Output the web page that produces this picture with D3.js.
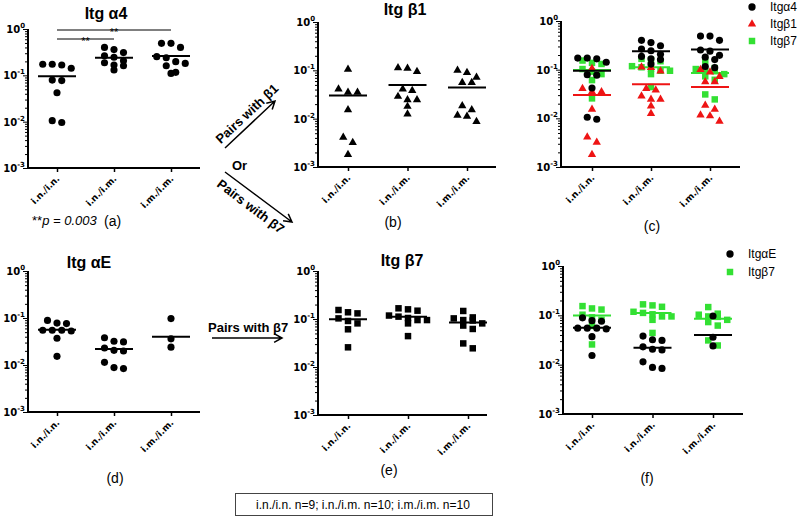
<!DOCTYPE html>
<html>
<head>
<meta charset="utf-8">
<script src="https://cdn.jsdelivr.net/npm/d3@7"></script>
<style>
body { margin: 0; background: #fff; }
svg { font-family: "Liberation Sans", Arial, sans-serif; }
.ylab, .xlab { font-family: "DejaVu Sans", sans-serif; font-weight: bold; }
</style>
</head>
<body>
<script>
//categories and tick labels
var categories = ["i.n./i.n.", "i.n./i.m.", "i.m./i.m."];
var yTickValues = [1, 0.1, 0.01, 0.001];
var yTickExponents = ["0", "-1", "-2", "-3"];

//Itg a4 (circles)
var itgA4 = [
    [0.173, 0.167, 0.142, 0.173, 0.077, 0.079, 0.042, 0.0096, 0.0105],
    [0.31, 0.36, 0.40, 0.245, 0.265, 0.207, 0.167, 0.161, 0.187, 0.13],
    [0.49, 0.40, 0.49, 0.253, 0.197, 0.181, 0.24, 0.161, 0.11, 0.116]
];
var itgA4Median = [0.095, 0.24, 0.26];

//Itg b1 (triangles)
var itgB1 = [
    [0.105, 0.041, 0.035, 0.035, 0.0153, 0.0041, 0.0032, 0.0018],
    [0.11, 0.094, 0.113, 0.038, 0.041, 0.0246, 0.0246, 0.0288, 0.0179, 0.0125],
    [0.10, 0.0895, 0.072, 0.056, 0.056, 0.0185, 0.0153, 0.0117, 0.0112, 0.0087]
];
var itgB1Median = [0.030, 0.050, 0.044];

//Itg b7 (squares)
var itgB7 = [
    [0.138, 0.081, 0.103, 0.061, 0.131, 0.091, 0.154, 0.0257],
    [0.167, 0.149, 0.159, 0.112, 0.095, 0.081, 0.095, 0.105, 0.118, 0.044],
    [0.108, 0.093, 0.095, 0.073, 0.103, 0.062, 0.147, 0.081, 0.0245, 0.031]
];
var itgB7Median = [0.099, 0.112, 0.085];

//Itg aE (circles)
var itgAE = [
    [0.089, 0.076, 0.078, 0.055, 0.053, 0.055, 0.055, 0.037, 0.0153],
    [0.038, 0.031, 0.032, 0.023, 0.0199, 0.0205, 0.0114, 0.0084, 0.0088],
    [0.097, 0.036, 0.024]
];
var itgAEMedian = [0.056, 0.022, 0.040];

var legendC = ["Itg\u03b14", "Itg\u03b21", "Itg\u03b27"];
var legendF = ["Itg\u03b1E", "Itg\u03b27"];

var width = 800,
    height = 517;

var green = "#33e033",
    red = "#ee1414";

var svg = d3.select("body")
    .append("svg")
    .attr("width", width)
    .attr("height", height);

//minor log ticks 2..9 x 10^k
var minorTicks = [];
[0.001, 0.01, 0.1].forEach(function(b){
    for (var m = 2; m < 10; m++) minorTicks.push(m * b);
});

//group points with close y into rows and center each row (graphpad style)
function swarm(values, y, step, tol){
    var pts = values.map(function(v){ return {v: v, py: y(v)}; })
        .sort(function(a, b){ return a.py - b.py; });
    var rows = [];
    pts.forEach(function(p){
        var last = rows[rows.length - 1];
        if (last && p.py - last[0].py < tol) last.push(p);
        else rows.push([p]);
    });
    rows.forEach(function(r){
        r.forEach(function(p, i){ p.dx = (i - (r.length - 1) / 2) * step; });
    });
    return pts;
}

function drawPanel(p, series){
    var y = d3.scaleLog().domain([0.001, 1]).range([p.bottom, p.top]);
    var x = d3.scalePoint().domain(categories).range(p.cats);
    var g = svg.append("g");

    //minor + major y ticks
    g.append("g")
        .attr("transform", "translate(" + p.ax + ",0)")
        .call(d3.axisLeft(y).tickValues(minorTicks).tickSize(3).tickSizeOuter(0).tickFormat(""))
        .call(function(s){ s.select(".domain").remove(); });
    g.append("g")
        .attr("transform", "translate(" + p.ax + ",0)")
        .call(d3.axisLeft(y).tickValues(yTickValues).tickSize(5).tickSizeOuter(0).tickFormat(""))
        .call(function(s){ s.select(".domain").remove(); });

    //y tick labels 10^k
    var lab = g.selectAll(".ylab")
        .data(yTickValues)
        .enter()
        .append("text")
        .attr("class", "ylab")
        .attr("x", p.ax - 3)
        .attr("y", function(d){ return y(d) + 4; })
        .attr("text-anchor", "end")
        .attr("font-size", 10);
    lab.append("tspan").text("10");
    lab.append("tspan")
        .attr("dy", -5)
        .attr("font-size", 7)
        .text(function(d, i){ return yTickExponents[i]; });

    //x ticks
    var xa = g.append("g")
        .attr("transform", "translate(0," + p.bottom + ")")
        .call(d3.axisBottom(x).tickSize(4).tickSizeOuter(0).tickFormat(""))
        .call(function(s){ s.select(".domain").remove(); });
    xa.selectAll("line").attr("stroke-width", 1.5);

    //rotated category labels
    g.selectAll(".xlab")
        .data(categories)
        .enter()
        .append("text")
        .attr("class", "xlab")
        .attr("transform", function(d){
            return "translate(" + (x(d) + 1) + "," + (p.bottom + 9) + ") rotate(-45)";
        })
        .attr("dy", "0.35em")
        .attr("text-anchor", "end")
        .attr("font-size", 9)
        .text(function(d){ return d; });

    //axis lines
    g.append("path")
        .attr("d", "M" + p.ax + "," + p.top + "V" + p.bottom + "H" + p.axEnd)
        .attr("fill", "none")
        .attr("stroke", "#000")
        .attr("stroke-width", 2);

    //points and median lines
    series.forEach(function(s){
        s.values.forEach(function(vals, i){
            var pts = swarm(vals, y, 9.5, 7);
            g.selectAll(null)
                .data(pts)
                .enter()
                .append("path")
                .attr("d", d3.symbol(s.shape, s.size))
                .attr("transform", function(d){
                    return "translate(" + (x(categories[i]) + d.dx) + "," + y(d.v) + ")";
                })
                .attr("fill", s.color);
        });
        g.selectAll(null)
            .data(s.median)
            .enter()
            .append("line")
            .attr("x1", function(d, i){ return x(categories[i]) - 19; })
            .attr("x2", function(d, i){ return x(categories[i]) + 19; })
            .attr("y1", function(d){ return y(d); })
            .attr("y2", function(d){ return y(d); })
            .attr("stroke", s.color)
            .attr("stroke-width", 2);
    });
    return {x: x, y: y};
}

var circle = d3.symbolCircle, tri = d3.symbolTriangle, sq = d3.symbolSquare;

var pa = drawPanel({ax: 28, axEnd: 200, top: 29, bottom: 168, cats: [57, 171]},
    [{values: itgA4, median: itgA4Median, shape: circle, size: 40, color: "#000"}]);
drawPanel({ax: 318, axEnd: 496, top: 22, bottom: 167, cats: [348, 467]},
    [{values: itgB1, median: itgB1Median, shape: tri, size: 30, color: "#000"}]);
drawPanel({ax: 561, axEnd: 740, top: 21, bottom: 167, cats: [592, 710]},
    [{values: itgB7, median: itgB7Median, shape: sq, size: 42, color: green},
     {values: itgB1, median: itgB1Median, shape: tri, size: 30, color: red},
     {values: itgA4, median: itgA4Median, shape: circle, size: 40, color: "#000"}]);
drawPanel({ax: 28, axEnd: 200, top: 271, bottom: 412, cats: [57, 171]},
    [{values: itgAE, median: itgAEMedian, shape: circle, size: 40, color: "#000"}]);
drawPanel({ax: 318, axEnd: 487, top: 271, bottom: 415, cats: [348, 468]},
    [{values: itgB7, median: itgB7Median, shape: sq, size: 42, color: "#000"}]);
drawPanel({ax: 563, axEnd: 743, top: 266, bottom: 414, cats: [592, 713]},
    [{values: itgB7, median: itgB7Median, shape: sq, size: 42, color: green},
     {values: itgAE, median: itgAEMedian, shape: circle, size: 40, color: "#000"}]);

//titles
var titles = [["Itg \u03b14", 106, 19], ["Itg \u03b21", 405, 15], ["Itg \u03b1E", 89, 268], ["Itg \u03b27", 402, 266]];
svg.selectAll(".title")
    .data(titles)
    .enter()
    .append("text")
    .attr("class", "title")
    .attr("x", function(d){ return d[1]; })
    .attr("y", function(d){ return d[2]; })
    .attr("text-anchor", "middle")
    .attr("font-size", 16)
    .attr("font-weight", "bold")
    .text(function(d){ return d[0]; });

//significance bars in (a)
[[categories[0], categories[1], 39], [categories[0], categories[2], 30]].forEach(function(b){
    var x1 = pa.x(b[0]), x2 = pa.x(b[1]);
    svg.append("line")
        .attr("x1", x1).attr("x2", x2)
        .attr("y1", b[2]).attr("y2", b[2])
        .attr("stroke", "#000").attr("stroke-width", 1);
    svg.append("text")
        .attr("x", (x1 + x2) / 2)
        .attr("y", b[2] + 6)
        .attr("text-anchor", "middle")
        .attr("font-size", 11)
        .text("**");
});

//panel letters
var pt = svg.append("text").attr("x", 32).attr("y", 225).attr("font-size", 13);
pt.append("tspan").text("**");
pt.append("tspan").attr("font-style", "italic").text("p = 0.003");
svg.append("text").attr("x", 104).attr("y", 226).attr("font-size", 14).text("(a)");
var letters = [["(b)", 393, 227], ["(c)", 652, 231], ["(d)", 115, 483], ["(e)", 389, 475], ["(f)", 647, 483]];
svg.selectAll(".letter")
    .data(letters)
    .enter()
    .append("text")
    .attr("x", function(d){ return d[1]; })
    .attr("y", function(d){ return d[2]; })
    .attr("text-anchor", "middle")
    .attr("font-size", 14)
    .text(function(d){ return d[0]; });

//legends
function legend(items, shapes, colors, lx, ly, gap){
    items.forEach(function(t, i){
        svg.append("path")
            .attr("d", d3.symbol(shapes[i], shapes[i] === tri ? 30 : 42))
            .attr("transform", "translate(" + lx + "," + (ly + i * gap) + ")")
            .attr("fill", colors[i]);
        svg.append("text")
            .attr("x", lx + 18)
            .attr("y", ly + i * gap + 4)
            .attr("font-size", 12)
            .text(t);
    });
}
legend(legendC, [circle, tri, sq], ["#000", red, green], 752, 7, 17);
legend(legendF, [circle, sq], ["#000", green], 730, 254, 18);

//arrows
function arrow(x1, y1, x2, y2){
    var a = Math.atan2(y2 - y1, x2 - x1), h = 9;
    svg.append("path")
        .attr("d", "M" + x1 + "," + y1 + "L" + x2 + "," + y2 +
            "M" + (x2 - h * Math.cos(a - 0.5)) + "," + (y2 - h * Math.sin(a - 0.5)) +
            "L" + x2 + "," + y2 +
            "L" + (x2 - h * Math.cos(a + 0.5)) + "," + (y2 - h * Math.sin(a + 0.5)))
        .attr("fill", "none")
        .attr("stroke", "#000")
        .attr("stroke-width", 1.5);
}
function arrowText(t, cx, cy, ang){
    svg.append("text")
        .attr("transform", "translate(" + cx + "," + cy + ") rotate(" + ang + ")")
        .attr("text-anchor", "middle")
        .attr("font-size", 13)
        .attr("font-weight", "bold")
        .text(t);
}
arrow(225, 148, 275, 101);
arrowText("Pairs with \u03b21", 250, 117, -43);
svg.append("text").attr("x", 232).attr("y", 170).attr("font-size", 13).attr("font-weight", "bold").text("Or");
arrow(225, 172, 292, 222);
arrowText("Pairs with \u03b27", 248, 210, 37);
arrow(212, 338, 282, 338);
svg.append("text").attr("x", 208).attr("y", 332).attr("font-size", 13).attr("font-weight", "bold").text("Pairs with \u03b27");

//sample size box
svg.append("rect")
    .attr("x", 235.5).attr("y", 493.5)
    .attr("width", 257).attr("height", 22)
    .attr("fill", "none").attr("stroke", "#444").attr("stroke-width", 1);
svg.append("text")
    .attr("x", 363).attr("y", 508.5)
    .attr("text-anchor", "middle")
    .attr("font-size", 12)
    .text("i.n./i.n. n=9; i.n./i.m. n=10; i.m./i.m. n=10");
</script>
</body>
</html>
